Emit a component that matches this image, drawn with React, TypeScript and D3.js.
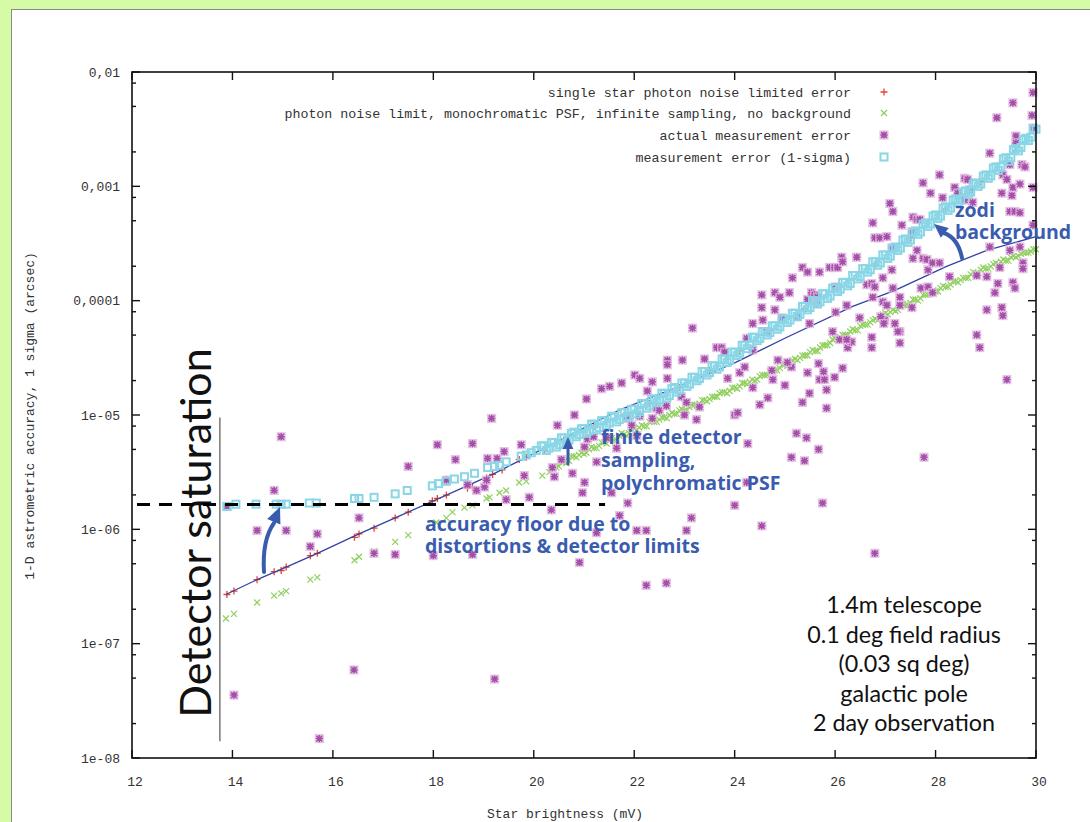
import React from 'react';
import * as d3 from 'd3';

// ---------- axes ----------
const xTicks = [12, 14, 16, 18, 20, 22, 24, 26, 28, 30];
const yTickValues = [1e-2, 1e-3, 1e-4, 1e-5, 1e-6, 1e-7, 1e-8];
const yTickLabels = ['0,01', '0,001', '0,0001', '1e-05', '1e-06', '1e-07', '1e-08'];
const minorMantissas = [2, 5, 8];
const xTitle = 'Star brightness (mV)';
const yTitle = '1-D astrometric accuracy, 1 sigma (arcsec)';

const legendLabels = [
  'single star photon noise limited error',
  'photon noise limit, monochromatic PSF, infinite sampling, no background',
  'actual measurement error',
  'measurement error (1-sigma)',
];

// ---------- data: [magnitude, log10(error in arcsec)] ----------
const photonNoise: [number, number][] = [
  [13.89, -6.57], [14.03, -6.54], [14.49, -6.44], [14.83, -6.37], [14.97, -6.36], [15.07, -6.33],
  [15.55, -6.23], [15.69, -6.21], [16.43, -6.07], [16.52, -6.04], [16.82, -5.99], [17.24, -5.9],
  [17.5, -5.85], [17.98, -5.75], [18.08, -5.73], [18.26, -5.7], [18.68, -5.64], [18.78, -5.63],
  [19.06, -5.55], [19.18, -5.52], [19.37, -5.48], [19.71, -5.39], [19.85, -5.37], [20.21, -5.31],
  [20.6, -5.22], [21.2, -5.1], [21.8, -5.0], [22.3, -4.9], [22.9, -4.76], [23.5, -4.61],
  [24.1, -4.44], [24.7, -4.26], [25.4, -4.07], [26.1, -3.88], [26.8, -3.68], [27.5, -3.45],
  [28.2, -3.2], [28.9, -2.96], [29.6, -2.69],
];

const photonNoiseCurve: [number, number][] = [
  [13.87, -6.57], [14.49, -6.44], [15.07, -6.33], [15.69, -6.21], [16.52, -6.04], [17.24, -5.9],
  [18.26, -5.7], [19.18, -5.52], [19.85, -5.37], [20.65, -5.19], [21.69, -4.96], [23.06, -4.72],
  [24.02, -4.54], [25.04, -4.32], [26.35, -4.05], [27.19, -3.91], [28.22, -3.7], [29.02, -3.56],
  [30.0, -3.44],
];

const monoPsf: [number, number][] = [
  [13.87, -6.78], [14.03, -6.74], [14.49, -6.64], [14.83, -6.58], [14.97, -6.56], [15.07, -6.54],
  [15.55, -6.44], [15.69, -6.42], [16.43, -6.27], [16.52, -6.24], [16.82, -6.19], [17.24, -6.11],
  [17.5, -6.05], [18.06, -5.94], [18.26, -5.9], [18.38, -5.85], [18.62, -5.81], [18.78, -5.79],
  [19.06, -5.73], [19.12, -5.72], [19.32, -5.68], [19.45, -5.66], [19.71, -5.59], [19.85, -5.58],
  [20.17, -5.53], [20.31, -5.5], [20.45, -5.46],
  [20.5, -5.45], [20.6, -5.41], [20.7, -5.4], [20.8, -5.36], [20.9, -5.35], [21.0, -5.34],
  [21.1, -5.3], [21.2, -5.29], [21.3, -5.27], [21.4, -5.24], [21.5, -5.22], [21.6, -5.22],
  [21.7, -5.18], [21.8, -5.17], [21.9, -5.16], [22.0, -5.12], [22.1, -5.11], [22.2, -5.1],
  [22.3, -5.06], [22.4, -5.06], [22.5, -5.04], [22.6, -5.02], [22.7, -5.0], [22.8, -4.99],
  [22.9, -4.96], [23.0, -4.96], [23.1, -4.93], [23.2, -4.91], [23.3, -4.9], [23.4, -4.87],
  [23.5, -4.86], [23.6, -4.84], [23.7, -4.81], [23.8, -4.8], [23.9, -4.79], [24.0, -4.76],
  [24.1, -4.75], [24.2, -4.72], [24.3, -4.71], [24.4, -4.7], [24.5, -4.66], [24.6, -4.65],
  [24.7, -4.62], [24.8, -4.61], [24.9, -4.59], [25.0, -4.56], [25.1, -4.55], [25.2, -4.51],
  [25.3, -4.5], [25.4, -4.48], [25.5, -4.45], [25.6, -4.44], [25.7, -4.41], [25.8, -4.39],
  [25.9, -4.37], [26.0, -4.33], [26.1, -4.32], [26.2, -4.3], [26.3, -4.27], [26.4, -4.26],
  [26.5, -4.22], [26.6, -4.21], [26.7, -4.19], [26.8, -4.16], [26.9, -4.15], [27.0, -4.11],
  [27.1, -4.1], [27.2, -4.09], [27.3, -4.05], [27.4, -4.04], [27.5, -4.02], [27.6, -3.99],
  [27.7, -3.98], [27.8, -3.95], [27.9, -3.93], [28.0, -3.92], [28.1, -3.89], [28.2, -3.88],
  [28.3, -3.86], [28.4, -3.83], [28.5, -3.82], [28.6, -3.8], [28.7, -3.77], [28.8, -3.76],
  [28.9, -3.73], [29.0, -3.72], [29.1, -3.7], [29.2, -3.67], [29.3, -3.66], [29.4, -3.65],
  [29.5, -3.62], [29.6, -3.62], [29.7, -3.59], [29.8, -3.58], [29.9, -3.57], [30.0, -3.55],
  [20.55, -5.41], [20.65, -5.42], [20.75, -5.36], [20.85, -5.37], [20.95, -5.33], [21.05, -5.33],
  [21.15, -5.28], [21.25, -5.29], [21.35, -5.24], [21.45, -5.25], [21.55, -5.2], [21.65, -5.22],
  [21.75, -5.16], [21.85, -5.18], [21.95, -5.13], [22.05, -5.13], [22.15, -5.09], [22.25, -5.1],
  [22.35, -5.05], [22.45, -5.06], [22.55, -5.02], [22.65, -5.03], [22.75, -4.98], [22.85, -4.99],
  [22.95, -4.95], [23.05, -4.96], [23.15, -4.91], [23.25, -4.92], [23.35, -4.87], [23.45, -4.88],
  [23.55, -4.84], [23.65, -4.84], [23.75, -4.8], [23.85, -4.81], [23.95, -4.76], [24.05, -4.77],
  [24.15, -4.72], [24.25, -4.73], [24.35, -4.69], [24.45, -4.69], [24.55, -4.65], [24.65, -4.65],
  [24.75, -4.61], [24.85, -4.61], [24.95, -4.56], [25.05, -4.57], [25.15, -4.52], [25.25, -4.52],
  [25.35, -4.48], [25.45, -4.48], [25.55, -4.43], [25.65, -4.44], [25.75, -4.39], [25.85, -4.39],
  [25.95, -4.34], [26.05, -4.34], [26.15, -4.3], [26.25, -4.3], [26.35, -4.25], [26.45, -4.26],
  [26.55, -4.21], [26.65, -4.21], [26.75, -4.17], [26.85, -4.17], [26.95, -4.12], [27.05, -4.12],
  [27.15, -4.08], [27.25, -4.08], [27.35, -4.03], [27.45, -4.04], [27.55, -3.99], [27.65, -4.0],
  [27.75, -3.95], [27.85, -3.95], [27.95, -3.91], [28.05, -3.92], [28.15, -3.87], [28.25, -3.88],
  [28.35, -3.83], [28.45, -3.84], [28.55, -3.8], [28.65, -3.8], [28.75, -3.75], [28.85, -3.76],
  [28.95, -3.71], [29.05, -3.72], [29.15, -3.68], [29.25, -3.68], [29.35, -3.64], [29.45, -3.65],
  [29.55, -3.61], [29.65, -3.61], [29.75, -3.58], [29.85, -3.58], [29.95, -3.55],
];

const actualError: [number, number][] = [
  [13.89, -5.8], [14.03, -7.45], [14.49, -6.01], [14.83, -5.66], [14.97, -5.19], [15.07, -6.01],
  [15.55, -6.15], [15.69, -6.04], [15.73, -7.83], [16.42, -7.23], [16.52, -5.9], [16.82, -6.21],
  [17.24, -6.22], [17.5, -5.45], [18.0, -6.23], [18.08, -5.26], [18.26, -5.57], [18.44, -5.39],
  [18.68, -5.61], [18.78, -5.25], [18.78, -6.22], [18.86, -5.66], [19.02, -5.63], [19.06, -5.57],
  [19.08, -5.38], [19.16, -5.03], [19.22, -7.31], [19.27, -5.38], [19.41, -5.32], [19.45, -5.74],
  [19.75, -5.26], [19.81, -5.53], [19.91, -5.72], [20.35, -5.83], [20.37, -5.46], [20.41, -5.54],
  [20.47, -5.09], [20.55, -5.39], [20.77, -5.51], [20.81, -5.0], [20.91, -6.29], [20.97, -5.68],
  [21.01, -5.59], [21.01, -5.28], [21.05, -4.86], [21.07, -5.21], [21.19, -5.19], [21.25, -5.41],
  [21.25, -6.03], [21.35, -4.77], [21.45, -5.2], [21.51, -4.75], [21.55, -5.68], [21.65, -5.29],
  [21.71, -5.88], [21.75, -4.72], [21.87, -5.03], [21.87, -5.77], [21.95, -5.09], [22.01, -4.65],
  [22.05, -5.18], [22.05, -6.01], [22.11, -4.68], [22.11, -5.01], [22.24, -6.01], [22.24, -6.49],
  [22.26, -4.79], [22.36, -4.71], [22.36, -5.03], [22.44, -4.94], [22.5, -4.96], [22.64, -4.92],
  [22.64, -6.47], [22.66, -4.52], [22.66, -4.56], [22.66, -4.68], [22.94, -4.84], [22.96, -4.52],
  [23.0, -5.0], [23.04, -4.89], [23.04, -6.01], [23.14, -5.9], [23.16, -4.24], [23.24, -5.04],
  [23.3, -4.93], [23.4, -4.51], [23.64, -4.41], [23.74, -4.41], [23.8, -4.45], [23.86, -4.68],
  [24.0, -5.0], [24.0, -5.79], [24.06, -4.98], [24.1, -4.63], [24.2, -4.58], [24.24, -5.59],
  [24.26, -5.25], [24.36, -4.2], [24.36, -4.43], [24.36, -4.76], [24.5, -4.91], [24.54, -3.95],
  [24.54, -5.97], [24.56, -4.17], [24.64, -4.27], [24.66, -4.85], [24.74, -4.61], [24.76, -4.69],
  [24.8, -3.93], [24.8, -4.08], [24.9, -3.97], [24.94, -4.15], [25.0, -4.74], [25.09, -3.93],
  [25.13, -4.58], [25.13, -5.37], [25.15, -3.8], [25.23, -5.16], [25.25, -4.14], [25.35, -3.71],
  [25.35, -4.89], [25.39, -5.4], [25.43, -5.2], [25.45, -3.75], [25.45, -3.99], [25.45, -4.63],
  [25.49, -4.2], [25.53, -3.93], [25.59, -3.95], [25.65, -3.97], [25.67, -5.3], [25.69, -3.75],
  [25.69, -4.69], [25.75, -5.77], [25.79, -4.69], [25.83, -4.78], [25.83, -4.94], [25.89, -3.71],
  [25.95, -4.27], [25.99, -3.71], [25.99, -4.67], [26.05, -3.71], [26.09, -4.34], [26.13, -3.62],
  [26.15, -3.66], [26.15, -4.59], [26.23, -4.04], [26.25, -4.41], [26.33, -4.36], [26.43, -3.62],
  [26.49, -4.15], [26.63, -3.86], [26.73, -3.85], [26.73, -4.32], [26.73, -4.41], [26.75, -3.32],
  [26.75, -3.97], [26.79, -3.45], [26.79, -3.88], [26.79, -6.21], [26.89, -3.45], [26.95, -3.8],
  [26.95, -4.01], [26.99, -4.17], [27.03, -3.44], [27.03, -4.04], [27.09, -3.15], [27.13, -3.54],
  [27.13, -3.73], [27.15, -3.22], [27.15, -3.89], [27.29, -3.97], [27.29, -4.04], [27.29, -4.27],
  [27.29, -4.37], [27.33, -3.34], [27.53, -3.4], [27.53, -4.06], [27.55, -3.27], [27.55, -3.63],
  [27.63, -3.29], [27.63, -3.56], [27.69, -3.29], [27.71, -3.89], [27.75, -3.63], [27.75, -2.97],
  [27.77, -5.37], [27.83, -3.64], [27.85, -3.73], [27.85, -3.88], [27.9, -3.06], [27.94, -3.67],
  [27.94, -3.93], [28.08, -2.9], [28.08, -3.67], [28.14, -3.1], [28.28, -3.79], [28.38, -3.01],
  [28.44, -3.06], [28.58, -2.93], [28.58, -3.12], [28.64, -2.94], [28.68, -3.03], [28.74, -3.14],
  [28.82, -3.78], [28.82, -4.3], [28.88, -4.41], [29.02, -3.79], [29.02, -4.08], [29.08, -2.71],
  [29.08, -3.53], [29.18, -3.93], [29.22, -2.4], [29.24, -3.85], [29.28, -3.71], [29.32, -3.06],
  [29.32, -4.06], [29.34, -2.9], [29.34, -4.13], [29.42, -2.94], [29.42, -4.69], [29.48, -2.81],
  [29.48, -3.22], [29.48, -3.56], [29.52, -3.08], [29.54, -2.27], [29.54, -3.84], [29.58, -3.22],
  [29.6, -2.56], [29.6, -2.62], [29.68, -3.23], [29.68, -3.53], [29.72, -2.81], [29.74, -3.67],
  [29.74, -3.72], [29.78, -2.83], [29.94, -2.18], [29.92, -2.38], [29.94, -2.49], [29.94, -3.01],
  [29.94, -3.34], [29.58, -3.89], [29.54, -3.01], [29.68, -2.98], [26.01, -3.88], [26.91, -4.14],
  [26.01, -4.1], [25.63, -4.02], [24.54, -4.06], [24.24, -4.33], [24.86, -4.52], [25.05, -4.54],
  [25.67, -4.55], [25.77, -4.62], [26.23, -4.34], [26.97, -4.2], [27.25, -4.27], [27.19, -4.2],
  [25.49, -4.81],
];

const sigmaError: [number, number][] = [
  [13.89, -5.8], [14.07, -5.78], [14.47, -5.78], [14.87, -5.78], [14.97, -5.78], [15.07, -5.78],
  [15.53, -5.77], [15.67, -5.77], [16.43, -5.73], [16.52, -5.73], [16.82, -5.72], [17.24, -5.69],
  [17.48, -5.66], [17.98, -5.62], [18.1, -5.6], [18.26, -5.58], [18.42, -5.56], [18.62, -5.54],
  [18.82, -5.51], [19.08, -5.46], [19.22, -5.45], [19.32, -5.44], [19.45, -5.41], [19.75, -5.36],
  [19.85, -5.35], [19.95, -5.33], [20.05, -5.31],
  [20.2, -5.27], [20.3, -5.29], [20.4, -5.24], [20.5, -5.26], [20.6, -5.2], [20.7, -5.22],
  [20.8, -5.15], [20.9, -5.17], [21.0, -5.12], [21.1, -5.14], [21.2, -5.08], [21.3, -5.11],
  [21.4, -5.05], [21.5, -5.07], [21.6, -5.02], [21.7, -5.04], [21.8, -4.98], [21.9, -5.01],
  [22.0, -4.95], [22.1, -4.97], [22.2, -4.9], [22.3, -4.92], [22.4, -4.86], [22.5, -4.87],
  [22.6, -4.81], [22.7, -4.83], [22.8, -4.76], [22.9, -4.78], [23.0, -4.72], [23.1, -4.73],
  [23.2, -4.67], [23.3, -4.68], [23.4, -4.62], [23.5, -4.63], [23.6, -4.57], [23.7, -4.58],
  [23.8, -4.51], [23.9, -4.52], [24.0, -4.45], [24.1, -4.46], [24.2, -4.39], [24.3, -4.39],
  [24.4, -4.32], [24.5, -4.33], [24.6, -4.27], [24.7, -4.28], [24.8, -4.22], [24.9, -4.23],
  [25.0, -4.16], [25.1, -4.17], [25.2, -4.11], [25.3, -4.12], [25.4, -4.05], [25.5, -4.06],
  [25.6, -4.0], [25.7, -4.01], [25.8, -3.94], [25.9, -3.96], [26.0, -3.89], [26.1, -3.9],
  [26.2, -3.84], [26.3, -3.85], [26.4, -3.78], [26.5, -3.79], [26.6, -3.72], [26.7, -3.73],
  [26.8, -3.66], [26.9, -3.67], [27.0, -3.6], [27.1, -3.61], [27.2, -3.53], [27.3, -3.54],
  [27.4, -3.46], [27.5, -3.47], [27.6, -3.39], [27.7, -3.4], [27.8, -3.32], [27.9, -3.33],
  [28.0, -3.25], [28.1, -3.26], [28.2, -3.18], [28.3, -3.19], [28.4, -3.11], [28.5, -3.12],
  [28.6, -3.04], [28.7, -3.05], [28.8, -2.97], [28.9, -2.98], [29.0, -2.9], [29.1, -2.91],
  [29.2, -2.83], [29.3, -2.83], [29.4, -2.75], [29.5, -2.75], [29.6, -2.67], [29.7, -2.66],
  [29.8, -2.58], [29.9, -2.57], [30.0, -2.5],
  [20.15, -5.27], [20.25, -5.31], [20.35, -5.24], [20.45, -5.28], [20.55, -5.2], [20.65, -5.24],
  [20.75, -5.16], [20.85, -5.19], [20.95, -5.12], [21.05, -5.16], [21.15, -5.08], [21.25, -5.13],
  [21.35, -5.05], [21.45, -5.09], [21.55, -5.01], [21.65, -5.06], [21.75, -4.98], [21.85, -5.02],
  [21.95, -4.95], [22.05, -4.99], [22.15, -4.9], [22.25, -4.94], [22.35, -4.86], [22.45, -4.89],
  [22.55, -4.81], [22.65, -4.85], [22.75, -4.77], [22.85, -4.8], [22.95, -4.72], [23.05, -4.75],
  [23.15, -4.67], [23.25, -4.7], [23.35, -4.62], [23.45, -4.65], [23.55, -4.57], [23.65, -4.6],
  [23.75, -4.51], [23.85, -4.54], [23.95, -4.45], [24.05, -4.48], [24.15, -4.39], [24.25, -4.42],
  [24.35, -4.32], [24.45, -4.35], [24.55, -4.27], [24.65, -4.3], [24.75, -4.22], [24.85, -4.25],
  [24.95, -4.16], [25.05, -4.19], [25.15, -4.11], [25.25, -4.14], [25.35, -4.05], [25.45, -4.08],
  [25.55, -4.0], [25.65, -4.03], [25.75, -3.94], [25.85, -3.98], [25.95, -3.89], [26.05, -3.92],
  [26.15, -3.84], [26.25, -3.87], [26.35, -3.78], [26.45, -3.81], [26.55, -3.72], [26.65, -3.75],
  [26.75, -3.66], [26.85, -3.69], [26.95, -3.6], [27.05, -3.63], [27.15, -3.54], [27.25, -3.56],
  [27.35, -3.47], [27.45, -3.49], [27.55, -3.4], [27.65, -3.42], [27.75, -3.33], [27.85, -3.35],
  [27.95, -3.26], [28.05, -3.28], [28.15, -3.19], [28.25, -3.21], [28.35, -3.12], [28.45, -3.14],
  [28.55, -3.05], [28.65, -3.07], [28.75, -2.98], [28.85, -3.0], [28.95, -2.91], [29.05, -2.93],
  [29.15, -2.84], [29.25, -2.86], [29.35, -2.76], [29.45, -2.78], [29.55, -2.68], [29.65, -2.69],
  [29.75, -2.59], [29.85, -2.6], [29.95, -2.5],
];

// annotations tied to data values
const accuracyFloor = 1.65e-6;
const floorMagRange = [12.1, 21.42];
const saturationMag = 13.75;
const saturationRange = [1.4e-8, 9.5e-6];

const infoLines = ['1.4m telescope', '0.1 deg field radius', '(0.03 sq deg)', 'galactic pole', '2 day observation'];

// ---------- layout ----------
const W = 1090;
const H = 822;
const left = 132, right = 1036, top = 72, bottom = 758;

const RED = '#e8432e';
const GREEN = '#8fd05e';
const PURPLE = '#a44ea8';
const PURPLE_SOFT = '#dfb6df';
const CYAN = '#88d6e6';
const ANNO = '#3a5cae';
const MONO = '"Liberation Mono", "DejaVu Sans Mono", monospace';
const SANS = 'Lato, "Open Sans", sans-serif';
const BOLDSANS = '"Open Sans", Lato, sans-serif';

function Plus({ x, y, s, c, w }: { x: number; y: number; s: number; c: string; w: number }) {
  return <path d={`M${x - s},${y}H${x + s}M${x},${y - s}V${y + s}`} stroke={c} strokeWidth={w} fill="none" />;
}
function Cross({ x, y, s, c, w }: { x: number; y: number; s: number; c: string; w: number }) {
  return <path d={`M${x - s},${y - s}L${x + s},${y + s}M${x - s},${y + s}L${x + s},${y - s}`} stroke={c} strokeWidth={w} fill="none" />;
}
function Star({ x, y }: { x: number; y: number }) {
  const s = 3.6;
  return (
    <g>
      <rect x={x - 4.6} y={y - 4.6} width={9.2} height={9.2} fill={PURPLE_SOFT} opacity={0.8} />
      <path
        d={`M${x - s},${y}H${x + s}M${x},${y - s}V${y + s}M${x - s * 0.8},${y - s * 0.8}L${x + s * 0.8},${y + s * 0.8}M${x - s * 0.8},${y + s * 0.8}L${x + s * 0.8},${y - s * 0.8}`}
        stroke={PURPLE}
        strokeWidth={1.5}
        fill="none"
      />
    </g>
  );
}
function Square({ x, y }: { x: number; y: number }) {
  return <rect x={x - 3.5} y={y - 3.5} width={7} height={7} fill="none" stroke={CYAN} strokeWidth={2} />;
}

function Arrow({ d, tip, from, width, head }: { d: string; tip: [number, number]; from: [number, number]; width: number; head: number }) {
  const ang = Math.atan2(tip[1] - from[1], tip[0] - from[0]);
  const bx = tip[0] - Math.cos(ang) * head;
  const by = tip[1] - Math.sin(ang) * head;
  const hw = head * 0.45;
  const p1 = [bx + Math.sin(ang) * hw, by - Math.cos(ang) * hw];
  const p2 = [bx - Math.sin(ang) * hw, by + Math.cos(ang) * hw];
  return (
    <g>
      <path d={d} stroke={ANNO} strokeWidth={width} fill="none" strokeLinecap="round" />
      <polygon points={`${tip[0]},${tip[1]} ${p1[0]},${p1[1]} ${p2[0]},${p2[1]}`} fill={ANNO} />
    </g>
  );
}

export default function App() {
  const x = d3.scaleLinear().domain([12, 30]).range([left, right]);
  const y = d3.scaleLog().domain([1e-8, 1e-2]).range([bottom, top]);
  const px = (d: [number, number]) => x(d[0]);
  const py = (d: [number, number]) => y(Math.pow(10, d[1]));

  const line = d3
    .line<[number, number]>()
    .x(px)
    .y(py);

  const minorTicks: number[] = [];
  for (let e = -8; e < -2; e++) {
    for (const m of minorMantissas) minorTicks.push(m * Math.pow(10, e));
  }

  const legendRows = [92, 113, 135, 157];
  const legendSym = 884;

  return (
    <svg width={W} height={H} style={{ position: 'absolute', left: 0, top: 0 }} xmlns="http://www.w3.org/2000/svg">
      <rect x={0} y={0} width={W} height={H} fill="#d5fba6" />
      <rect x={11.5} y={9.5} width={1200} height={1000} fill="#ffffff" stroke="#8a8a8a" strokeWidth={1} />

      {/* axis tick labels */}
      {yTickValues.map((v, i) => (
        <text key={'yl' + i} x={120} y={y(v) + 4.5} textAnchor="end" fontFamily={MONO} fontSize={13} fill="#333">
          {yTickLabels[i]}
        </text>
      ))}
      {xTicks.map((t) => (
        <text key={'xl' + t} x={x(t) + 3} y={786} textAnchor="middle" fontFamily={MONO} fontSize={13} fill="#333">
          {t}
        </text>
      ))}
      <text x={565} y={818} textAnchor="middle" fontFamily={MONO} fontSize={13} fill="#333">
        {xTitle}
      </text>
      <text transform={`translate(34,416) rotate(-90)`} textAnchor="middle" fontFamily={MONO} fontSize={13} fill="#333">
        {yTitle}
      </text>

      {/* legend */}
      {legendLabels.map((l, i) => (
        <text key={'lg' + i} x={851} y={legendRows[i] + 4.5} textAnchor="end" fontFamily={MONO} fontSize={13.3} fill="#333">
          {l}
        </text>
      ))}
      <Plus x={legendSym} y={legendRows[0]} s={3.5} c={RED} w={1.3} />
      <Cross x={legendSym} y={legendRows[1]} s={3} c={GREEN} w={1.3} />
      <Star x={legendSym} y={legendRows[2]} />
      <Square x={legendSym} y={legendRows[3]} />

      {/* data */}
      <g>
        {photonNoise.map((d, i) => (
          <Plus key={'r' + i} x={px(d)} y={py(d)} s={3.5} c={RED} w={1.3} />
        ))}
      </g>
      <path d={line(photonNoiseCurve) || ''} stroke="#3342a4" strokeWidth={1.3} fill="none" />
      <g>
        {monoPsf.map((d, i) => (
          <Cross key={'g' + i} x={px(d)} y={py(d)} s={3} c={GREEN} w={1.2} />
        ))}
      </g>
      <g>
        {actualError.map((d, i) => (
          <Star key={'p' + i} x={px(d)} y={py(d)} />
        ))}
      </g>
      <g>
        {sigmaError.map((d, i) => (
          <Square key={'c' + i} x={px(d)} y={py(d)} />
        ))}
      </g>

      {/* frame & ticks */}
      <rect x={left} y={top} width={right - left} height={bottom - top} fill="none" stroke="#111" strokeWidth={1.6} />
      {xTicks.map((t) => (
        <g key={'xt' + t}>
          <line x1={x(t)} x2={x(t)} y1={bottom} y2={bottom - 8} stroke="#111" strokeWidth={1.4} />
          <line x1={x(t)} x2={x(t)} y1={top} y2={top + 8} stroke="#111" strokeWidth={1.4} />
        </g>
      ))}
      {yTickValues.map((v, i) => (
        <g key={'yt' + i}>
          <line x1={left} x2={left + 8} y1={y(v)} y2={y(v)} stroke="#111" strokeWidth={1.4} />
          <line x1={right} x2={right - 8} y1={y(v)} y2={y(v)} stroke="#111" strokeWidth={1.4} />
        </g>
      ))}
      {minorTicks.map((v, i) => (
        <g key={'ym' + i}>
          <line x1={left} x2={left + 4} y1={y(v)} y2={y(v)} stroke="#111" strokeWidth={1.4} />
          <line x1={right} x2={right - 4} y1={y(v)} y2={y(v)} stroke="#111" strokeWidth={1.4} />
        </g>
      ))}

      {/* annotations */}
      <line
        x1={x(saturationMag)}
        x2={x(saturationMag)}
        y1={y(saturationRange[1])}
        y2={y(saturationRange[0])}
        stroke="#555"
        strokeWidth={1.2}
      />
      <text transform="translate(211,533) rotate(-90)" textAnchor="middle" fontFamily={SANS} fontSize={43} fill="#111">
        Detector saturation
      </text>
      <line
        x1={x(floorMagRange[0])}
        x2={x(floorMagRange[1])}
        y1={y(accuracyFloor)}
        y2={y(accuracyFloor)}
        stroke="#000"
        strokeWidth={3}
        strokeDasharray="13,9"
      />

      <Arrow d="M264,572 Q262,540 274,523" from={[272, 526]} tip={[280, 507]} width={4} head={16} />
      <Arrow d="M568,464 L568,449" from={[568, 452]} tip={[568, 437]} width={3} head={12} />
      <Arrow d="M962,258 Q958,238 944,233" from={[946, 234]} tip={[934, 224]} width={4} head={14} />

      <g fontFamily={BOLDSANS} fontWeight={700} fontSize={19.5} fill={ANNO}>
        <text x={425} y={531}>accuracy floor due to</text>
        <text x={425} y={553}>distortions &amp; detector limits</text>
        <text x={601} y={444}>finite detector</text>
        <text x={601} y={467}>sampling,</text>
        <text x={601} y={490}>polychromatic PSF</text>
        <text x={955} y={217}>zodi</text>
        <text x={955} y={239}>background</text>
      </g>
      <g fontFamily={SANS} fontSize={23.3} fill="#111" textAnchor="middle">
        {infoLines.map((l, i) => (
          <text key={'info' + i} x={904} y={613 + i * 29.5}>
            {l}
          </text>
        ))}
      </g>
    </svg>
  );
}
